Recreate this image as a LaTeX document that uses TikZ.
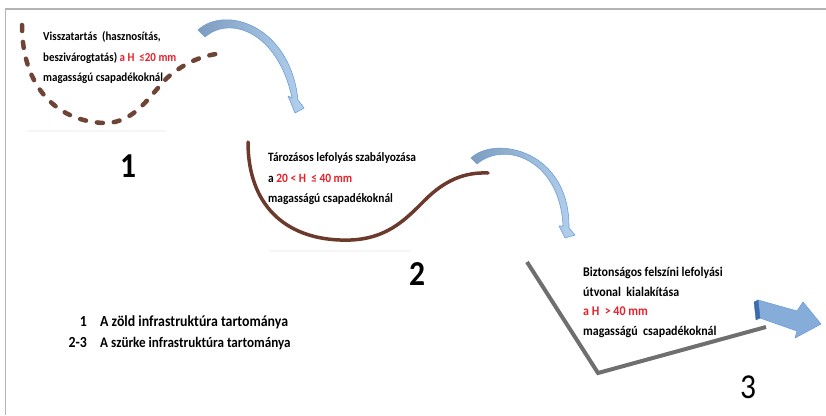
\documentclass[tikz,border=0pt]{standalone}
\usepackage{fontspec}
\setmainfont{Carlito}[FakeStretch=0.9]
\usetikzlibrary{shadings}
\definecolor{brn}{HTML}{6B3A2C}
\definecolor{dbrn}{HTML}{6E4436}
\definecolor{redt}{HTML}{E8202A}
\definecolor{graylineC}{HTML}{6F6F6F}
\definecolor{frameC}{HTML}{B4B4B4}
\definecolor{arrL}{HTML}{7E9CBE}
\definecolor{arrR}{HTML}{B3D1EE}
\definecolor{arrE}{HTML}{6A9FD8}
\definecolor{blkF}{HTML}{86ADDA}
\definecolor{blkD}{HTML}{3D6CAE}
\begin{document}
\begin{tikzpicture}[x=1pt,y=-1pt,
  txt/.style={anchor=base west, inner sep=0pt, font=\bfseries},
  tA/.style={txt, font=\bfseries\fontsize{12.2}{14}\selectfont},
  tB/.style={txt, font=\bfseries\fontsize{12.7}{14}\selectfont},
  tC/.style={txt, font=\bfseries\fontsize{13.3}{15}\selectfont},
  leg/.style={txt, font=\bfseries\fontsize{15.4}{17}\selectfont},
  bignum/.style={anchor=base, inner sep=0pt, font=\fontsize{35}{40}\selectfont},
  curvarrow/.style={left color=arrL, right color=arrR, draw=arrE, line width=0.6pt, line join=round},
  shadowline/.style={line width=2.5pt, gray!7, line cap=round}
]
\useasboundingbox (0,0) rectangle (826,415);
% frame
\draw[frameC, line width=1.4pt] (826,9) -- (5.5,9) -- (5.5,415);

% faint reflections
\draw[shadowline] (28,131) -- (165,131);
\draw[shadowline] (270,251) -- (410,251);

% dashed curve 1
\draw[dbrn, line width=4.5pt, line cap=round, dash pattern=on 6pt off 11pt]
  (22,25) .. controls (22,90) and (60,122) .. (105,123)
          .. controls (135,123) and (150,95) .. (167,78)
          .. controls (185,62) and (205,54) .. (226,53);

% solid curve 2
\draw[brn, line width=3.5pt, line cap=round]
  (248,142) .. controls (248,205) and (285,238) .. (340,240)
            .. controls (385,242) and (405,220) .. (425,200)
            .. controls (445,180) and (465,172) .. (488,173);

% gray polyline 3
\draw[graylineC, line width=4pt] (527,262) -- (598,373) -- (766,327);

% curved arrow 1
\path[curvarrow]
  (198,30) .. controls (225,5) and (290,25) .. (298,100)
  -- (304,108) -- (295,113) -- (288,96) -- (292,98)
  .. controls (278,32) and (230,15) .. (205,37) -- cycle;

% curved arrow 2
\path[curvarrow]
  (471,158) .. controls (495,135) and (570,150) .. (569,228)
  -- (575,235) -- (565,238) -- (559,226) -- (563,226)
  .. controls (560,160) and (505,140) .. (477,164) -- cycle;

% block arrow 3
\path[fill=blkF, draw=arrE, line width=0.6pt, line join=round]
  (758,300) -- (797,311) -- (803,302) -- (821,324) -- (795,338) -- (797,331) -- (760,318) -- cycle;
\path[fill=blkD, draw=blkD, line width=0.4pt]
  (754,302) -- (758,300) -- (760,318) -- (756,320) -- cycle;

% text block 1
\node[tA] (t1a) at (43,40) {Visszatartás\ \ (hasznosítás,};
\node[tA] (t1b) at (43,61) {beszivárogtatás) \textcolor{redt}{a H\ \ ≤20 mm}};
\node[tA] (t1c) at (43,81) {magasságú csapadékoknál};

% text block 2
\node[tB] (t2a) at (268,161) {Tározásos lefolyás szabályozása};
\node[tB] (t2b) at (268,182) {a \textcolor{redt}{20 < H\ \ ≤ 40 mm}};
\node[tB] (t2c) at (268,202) {magasságú csapadékoknál};

% text block 3
\node[tC] (t3a) at (583,276) {Biztonságos felszíni lefolyási};
\node[tC] (t3b) at (583,296) {útvonal\ \ kialakítása};
\node[tC] (t3c) at (583,315) {\textcolor{redt}{a H\ \ > 40 mm}};
\node[tC] (t3d) at (583,335) {magasságú\ \ csapadékoknál};

% legend
\node[leg, anchor=base east] (l1n) at (87,326) {1};
\node[leg] (l1t) at (100,326) {A zöld infrastruktúra tartománya};
\node[leg, anchor=base east] (l2n) at (87,347) {2-3};
\node[leg, font=\bfseries\fontsize{14.6}{17}\selectfont] (l2t) at (100,347) {A szürke infrastruktúra tartománya};

% big numbers
\node[bignum, font=\bfseries\fontsize{35}{40}\selectfont] (n1) at (128,177) {1};
\node[bignum, font=\bfseries\fontsize{35}{40}\selectfont] (n2) at (417,285) {2};
\node[bignum] (n3) at (748,398) {3};
\end{tikzpicture}
\end{document}
